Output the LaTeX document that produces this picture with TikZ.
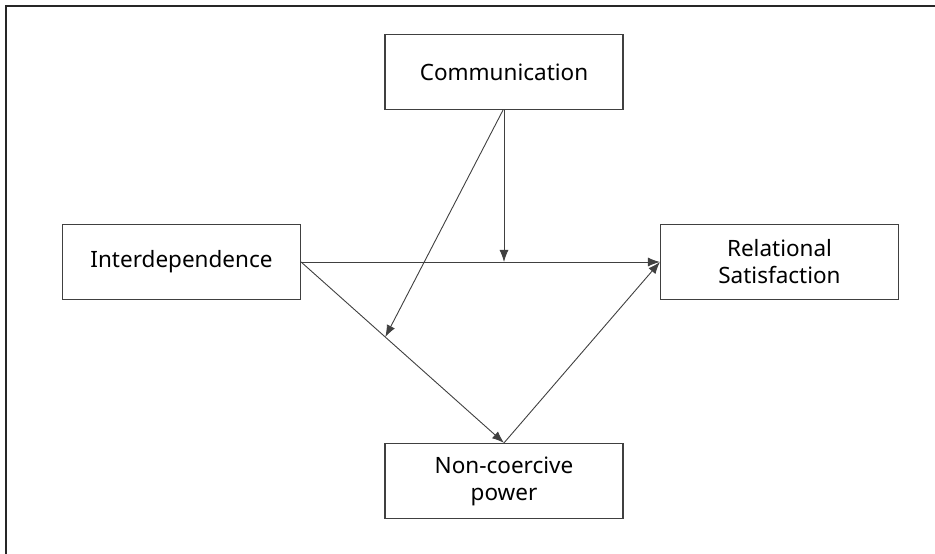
\documentclass[tikz,border=0pt]{standalone}
\usepackage{fontspec}
\setmainfont{Noto Sans}
\usetikzlibrary{arrows.meta,calc,positioning}

\begin{document}
\begin{tikzpicture}[x=1bp,y=-1bp]
\tikzset{BOX/.style={draw=black!75,line width=1.2bp,rectangle,text centered,minimum width=238bp,minimum height=75bp,inner sep=0pt,font=\fontsize{22.5bp}{27bp}\selectfont,align=center}}
\tikzset{PATH/.style={draw=black!75,line width=0.9bp,-{Latex[length=12bp,width=9bp]}}}
\tikzset{FRAME/.style={draw=black!85,line width=2bp}}

\useasboundingbox (0,0) rectangle (935,554);
\path [FRAME] (935,6) -- (6,6) -- (6,554);

\node[BOX] (communication) at (504,72) {Communication};
\node[BOX] (interdependence) at (181.5,262) {\raisebox{-2bp}{Interdependence}};
\node[BOX] (satisfaction) at (779.5,262) {Relational\\Satisfaction};
\node[BOX] (power) at (504,481) {Non-coercive\\power};

\coordinate (moderate a) at (communication.south |- interdependence.east);
\coordinate (moderate b) at ($(interdependence.east)!0.415!(power.north)$);

\path [PATH] (interdependence.east) -- (satisfaction.west);
\path [PATH] (interdependence.east) -- (power.north);
\path [PATH] (power.north) -- (satisfaction.west);

\path [PATH] (communication.south) -- (moderate a);
\path [PATH] ([xshift=-1bp]communication.south) -- (moderate b);

\end{tikzpicture}
\end{document}
